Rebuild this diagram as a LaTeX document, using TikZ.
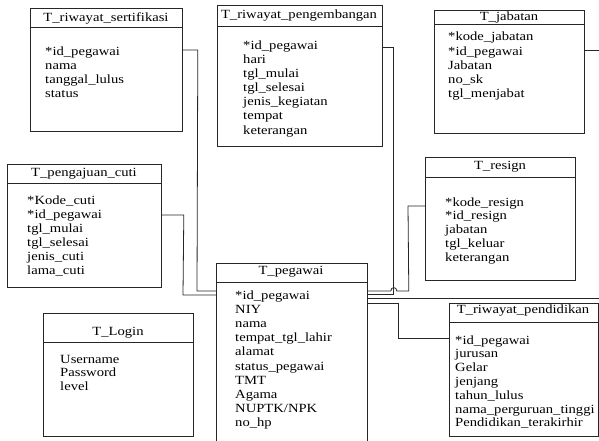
\documentclass[tikz,border=0pt]{standalone}
\usepackage{fontspec}
\setmainfont{Liberation Serif}[FakeStretch=1.17]
\usetikzlibrary{calc}
\begin{document}
\begin{tikzpicture}[x=1pt,y=-1pt,
 tbl/.style={draw=black!85, line width=0.8pt, fill=white, inner sep=0pt, anchor=north west},
 ttl/.style={font=\fontsize{12.5}{14}\selectfont, inner sep=0pt},
 fld/.style={font=\fontsize{12.5}{14}\selectfont, inner sep=0pt, anchor=base west},
 conn/.style={draw=black!85, line width=0.8pt}]
\useasboundingbox (0,0) rectangle (599,441);
\clip (0,0) rectangle (599,441);

% tables
\node[tbl, minimum width=152pt, minimum height=123pt] (ser) at (30,8) {};
\node[tbl, minimum width=165pt, minimum height=141pt] (peng) at (217,5) {};
\node[tbl, minimum width=150pt, minimum height=123pt] (jab) at (434,10) {};
\node[tbl, minimum width=154pt, minimum height=123pt] (cuti) at (7,164) {};
\node[tbl, minimum width=150pt, minimum height=123pt] (resign) at (425,157) {};
\node[tbl, minimum width=151pt, minimum height=200pt] (peg) at (216,263) {};
\node[tbl, minimum width=149pt, minimum height=133pt] (pend) at (449,303) {};
\node[tbl, minimum width=150pt, minimum height=123pt] (login) at (43,313) {};

% header lines
\draw[conn] ($(ser.north west)+(0,19)$) -- ($(ser.north east)+(0,19)$);
\draw[conn] ($(peng.north west)+(0,21)$) -- ($(peng.north east)+(0,21)$);
\draw[conn] ($(jab.north west)+(0,14)$) -- ($(jab.north east)+(0,14)$);
\draw[conn] ($(cuti.north west)+(0,19)$) -- ($(cuti.north east)+(0,19)$);
\draw[conn] ($(resign.north west)+(0,20)$) -- ($(resign.north east)+(0,20)$);
\draw[conn] ($(peg.north west)+(0,19)$) -- ($(peg.north east)+(0,19)$);
\draw[conn] ($(pend.north west)+(0,19)$) -- ($(pend.north east)+(0,19)$);
\draw[conn] ($(login.north west)+(0,29)$) -- ($(login.north east)+(0,29)$);

% titles
\node[ttl] (ser-t) at (106,18) {T\_riwayat\_sertifikasi};
\node[ttl] (peng-t) at (299,16) {T\_riwayat\_pengembangan};
\node[ttl] (jab-t) at (509,17) {T\_jabatan};
\node[ttl] (cuti-t) at (84,174) {T\_pengajuan\_cuti};
\node[ttl] (resign-t) at (500,167) {T\_resign};
\node[ttl] (peg-t) at (291,272) {T\_pegawai};
\node[ttl] (pend-t) at (523,311) {T\_riwayat\_pendidikan};
\node[ttl] (login-t) at (118,333) {T\_Login};

% fields
\foreach \s [count=\i from 0] in {*id\_pegawai, nama, tanggal\_lulus, status}
  \node[fld] (ser-\i) at (45,{56+13.7*\i}) {\s};
\foreach \s [count=\i from 0] in {*id\_pegawai, hari, tgl\_mulai, tgl\_selesai, jenis\_kegiatan, tempat, keterangan}
  \node[fld] (peng-\i) at (243,{50+14*\i}) {\s};
\foreach \s [count=\i from 0] in {*kode\_jabatan, *id\_pegawai, Jabatan, no\_sk, tgl\_menjabat}
  \node[fld] (jab-\i) at (448,{41+14.2*\i}) {\s};
\foreach \s [count=\i from 0] in {*Kode\_cuti, *id\_pegawai, tgl\_mulai, tgl\_selesai, jenis\_cuti, lama\_cuti}
  \node[fld] (cuti-\i) at (27,{204+14*\i}) {\s};
\foreach \s [count=\i from 0] in {*kode\_resign, *id\_resign, jabatan, tgl\_keluar, keterangan}
  \node[fld] (resign-\i) at (445,{206+13.8*\i}) {\s};
\foreach \s [count=\i from 0] in {*id\_pegawai, NIY, nama, tempat\_tgl\_lahir, alamat, status\_pegawai, TMT, Agama, NUPTK/NPK, no\_hp}
  \node[fld] (peg-\i) at (235,{299+14.2*\i}) {\s};
\foreach \s [count=\i from 0] in {*id\_pegawai, jurusan, Gelar, jenjang, tahun\_lulus, nama\_perguruan\_tinggi, Pendidikan\_terakirhir}
  \node[fld] (pend-\i) at (455,{344+13.8*\i}) {\s};
\foreach \s [count=\i from 0] in {Username, Password, level}
  \node[fld] (login-\i) at (60,{363+13.5*\i}) {\s};

% connectors (all corners given explicitly)
\draw[conn] ($(ser.north east)+(0,42)$) -- ($(ser.north east)+(15,42)$)
  -- ($(peg.north west)+(-19,28)$) -- ($(peg.north west)+(0,28)$);
\draw[conn] ($(cuti.north east)+(0,51)$) -- ($(cuti.north east)+(22,51)$)
  -- ($(peg.north west)+(-33,32)$) -- ($(peg.north west)+(0,32)$);
\draw[conn] ($(peng.north east)+(0,42)$) -- ($(peng.north east)+(11,42)$)
  -- ($(peg.north east)+(26,31)$) -- ($(peg.north east)+(0,31)$);
\draw[conn] ($(resign.north west)+(0,49)$) -- ($(resign.north west)+(-17,49)$)
  -- ($(peg.north east)+(41,28)$)
  -- ($(peg.north east)+(29,28)$) .. controls ($(peg.north east)+(29,23.5)$) and ($(peg.north east)+(23,23.5)$) .. ($(peg.north east)+(23,28)$)
  -- ($(peg.north east)+(0,28)$);
\draw[conn] ($(jab.north east)+(0,40)$) -- ($(jab.north east)+(30,40)$)
  -- ($(peg.north east)+(247,35)$) -- ($(peg.north east)+(0,35)$);
\draw[conn] ($(peg.north east)+(0,40)$) -- ($(pend.north west)+(-51,0)$)
  -- ($(pend.north west)+(-51,35)$) -- ($(pend.north west)+(0,35)$);
\end{tikzpicture}
\end{document}
